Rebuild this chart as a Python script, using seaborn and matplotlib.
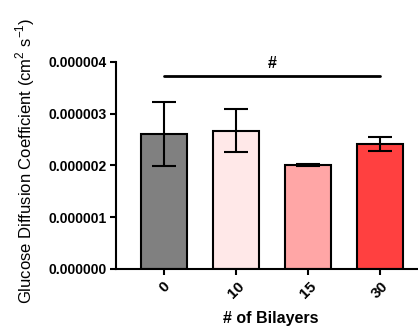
import numpy as np
import pandas as pd

import seaborn as sns
import matplotlib.pyplot as plt
from matplotlib.ticker import FuncFormatter

# data (cm^2 s^-1)
bilayers = ["0", "10", "15", "30"]
diff_mean = [2.60e-6, 2.67e-6, 2.01e-6, 2.41e-6]
diff_err = [0.62e-6, 0.41e-6, 0.02e-6, 0.13e-6]
bar_colors = ["#808080", "#FFE8E8", "#FFA6A6", "#FF4040"]

data = pd.DataFrame(data={'# of Bilayers': bilayers, 'D': diff_mean})

sns.set_style("ticks")
plt.rcParams['font.family'] = ['Liberation Sans', 'DejaVu Sans']
plt.rcParams['mathtext.fontset'] = 'custom'
plt.rcParams['mathtext.rm'] = 'Liberation Sans'
for k in ['text.color', 'axes.labelcolor', 'xtick.color', 'ytick.color', 'axes.edgecolor']:
    plt.rcParams[k] = 'black'

fig = plt.figure(figsize=(4.18, 3.29), dpi=100)
ax = fig.add_axes([116 / 418, 1 - 269 / 329, 1 - 116 / 418, (269 - 61.7) / 329])

sns.barplot(data=data, x='# of Bilayers', y='D', hue='# of Bilayers', palette=bar_colors,
            saturation=1, legend=False, errorbar=None, width=0.64, edgecolor='black',
            linewidth=1.5, ax=ax)
ax.errorbar(np.arange(len(bilayers)), diff_mean, yerr=diff_err, fmt='none', ecolor='black',
            elinewidth=1.5, capsize=8.6, capthick=1.5, zorder=5)

# significance bar
ax.plot([0.0, 3.0], [3.73e-6, 3.73e-6], color='black', lw=2, clip_on=False)
ax.text(1.5, 3.83e-6, '#', ha='center', va='bottom', fontsize=11.5, fontweight='bold')

ax.set_ylim(0, 4e-6)
ax.set_xlim(-0.67, 3.53)
ax.set_yticks([0, 1e-6, 2e-6, 3e-6, 4e-6])
ax.yaxis.set_major_formatter(FuncFormatter(lambda v, p: "%.6f" % v))

for s in ['top', 'right']:
    ax.spines[s].set_visible(False)
for s in ['left', 'bottom']:
    ax.spines[s].set_linewidth(1.5)
ax.tick_params(width=1.5, length=4.5, labelsize=10, pad=2)
ax.tick_params(axis='x', labelsize=11, pad=3)
for lbl in ax.get_yticklabels():
    lbl.set_fontweight('bold')
for lbl in ax.get_xticklabels():
    lbl.set_fontweight('bold')
    lbl.set_rotation(45)

ax.set_xlabel('# of Bilayers', fontsize=11.5, fontweight='bold')
ax.set_ylabel('Glucose Diffusion Coefficient (cm$^2$ s$^{-1}$)', fontsize=12)
ax.xaxis.set_label_coords(0.513, -0.205)
ax.yaxis.set_label_coords(-0.262, 0.52)

plt.savefig('out.png', dpi=100)
